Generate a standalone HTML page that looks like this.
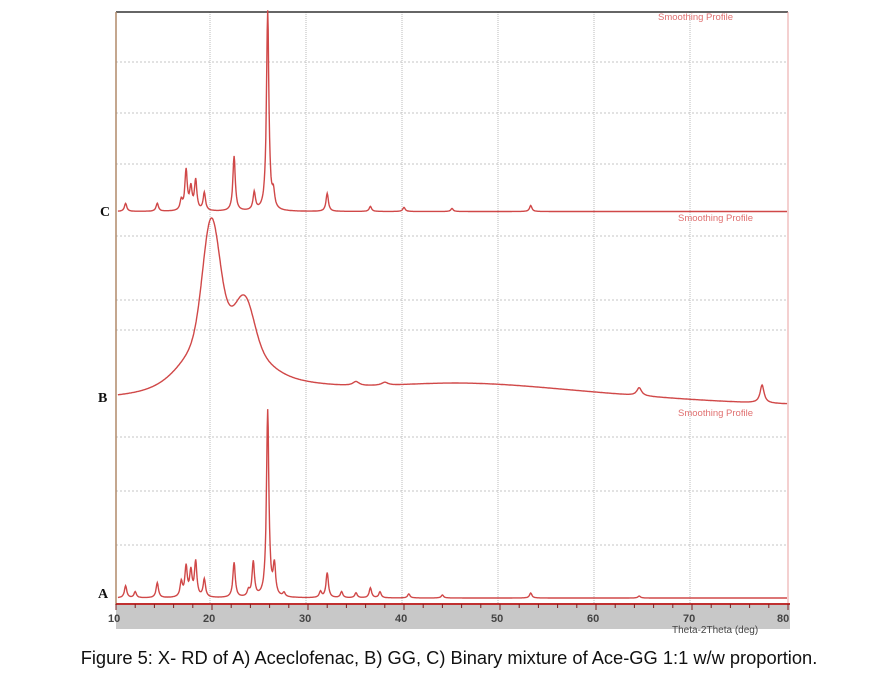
<!DOCTYPE html>
<html><head><meta charset="utf-8"><style>
body{margin:0;background:#fff;width:895px;height:675px;overflow:hidden;font-family:"Liberation Sans",sans-serif}
</style></head><body>
<svg id="s" width="895" height="675" xmlns="http://www.w3.org/2000/svg">
<rect x="116" y="605" width="674" height="24" fill="#c8c8c8"/>
<g stroke="#c4c4c4" stroke-dasharray="2,2" stroke-width="1">
<line x1="116" y1="62" x2="788" y2="62"/><line x1="116" y1="113" x2="788" y2="113"/><line x1="116" y1="164" x2="788" y2="164"/>
<line x1="116" y1="236" x2="788" y2="236"/><line x1="116" y1="300" x2="788" y2="300"/><line x1="116" y1="330" x2="788" y2="330"/>
<line x1="116" y1="437" x2="788" y2="437"/><line x1="116" y1="491" x2="788" y2="491"/><line x1="116" y1="545" x2="788" y2="545"/>
</g>
<g stroke="#bbb" stroke-width="1" stroke-dasharray="1,1">
<line x1="210" y1="12" x2="210" y2="603"/><line x1="306" y1="12" x2="306" y2="603"/><line x1="402" y1="12" x2="402" y2="603"/><line x1="498" y1="12" x2="498" y2="603"/><line x1="594" y1="12" x2="594" y2="603"/><line x1="690" y1="12" x2="690" y2="603"/>
</g>
<line x1="116" y1="12" x2="788" y2="12" stroke="#333" stroke-width="1.5"/>
<line x1="116" y1="12" x2="116" y2="605" stroke="#b08a6a" stroke-width="1.5"/>
<line x1="788" y1="12" x2="788" y2="605" stroke="#e8a0a0" stroke-width="1"/>
<line x1="116" y1="604" x2="790" y2="604" stroke="#c03030" stroke-width="2"/>
<g id="ticks" stroke="#7a2020" stroke-width="1"></g>
<g id="curves" fill="none" stroke="#d04848" stroke-width="1.4"></g>
<g font-size="11" fill="#444" font-weight="bold">
<text x="108" y="622">10</text><text x="203" y="622">20</text><text x="299" y="622">30</text><text x="395" y="622">40</text><text x="491" y="622">50</text><text x="587" y="622">60</text><text x="683" y="622">70</text><text x="777" y="622">80</text>
<text x="672" y="633" font-size="10" font-weight="normal">Theta-2Theta (deg)</text>
</g>
<g font-size="9.5" fill="#e07070">
<text x="658" y="20">Smoothing Profile</text>
<text x="678" y="221">Smoothing Profile</text>
<text x="678" y="416">Smoothing Profile</text>
</g>
<g font-family="Liberation Serif,serif" font-weight="bold" font-size="14" fill="#111">
<text x="100" y="216">C</text><text x="98" y="402">B</text><text x="98" y="598">A</text>
</g>
<text x="449" y="664" text-anchor="middle" font-size="18.3" fill="#111">Figure 5: X- RD of A) Aceclofenac, B) GG, C) Binary mixture of Ace-GG 1:1 w/w proportion.</text>
</svg>
<script>
var X=d=>116+(d-10)*9.6;
var t=document.getElementById('ticks'),h='';
for(var d=10;d<=80;d+=2){h+='<line x1="'+X(d)+'" y1="604" x2="'+X(d)+'" y2="'+(d%10?608:610)+'"/>';}
t.innerHTML=h;
function L(x,c,w){return 1/(1+((x-c)/w)*((x-c)/w));}
function G(x,c,w){return Math.exp(-((x-c)*(x-c))/(2*w*w));}
function path(base,f){var p='';for(var d=10.2;d<=79.9;d+=0.05){p+=(p?'L':'M')+X(d).toFixed(1)+','+(base(d)-f(d)).toFixed(1);}return p;}
var A=[[11,12],[12,6],[14.3,15],[16.8,15],[17.3,30],[17.8,25],[18.3,35],[19.2,18],[22.3,35],[23.8,6],[24.3,35],[25.8,187],[26.5,30],[27.5,4],[31.3,6],[32,25],[33.5,6],[35,5],[36.5,10],[37.5,6],[40.5,4],[44,3],[53.2,5],[64.5,2]];
var C=[[11,8],[14.3,8],[16.8,10],[17.3,40],[17.8,22],[18.3,30],[19.2,18],[22.3,55],[24.4,18],[25.8,200],[26.4,15],[32,18],[36.5,5],[40,4],[45,3],[53.2,6]];
function sum(pk,w){return d=>{var s=0;pk.forEach(p=>s+=p[1]*L(d,p[0],w));return s;};}
var cv=document.getElementById('curves');
var pA=path(d=>598,sum(A,0.15));
var pC=path(d=>211.5,sum(C,0.15));
var pB=path(d=>399+6*(d-10)/70,d=>{return 60*G(d,21,3.0)+105*G(d,19.9,0.85)+38*G(d,23.5,0.9)+22*G(d,23,7)+12*G(d,43,9)+10*G(d,55,12)+8*L(d,64.5,0.3)+18*L(d,77.3,0.25)+4*L(d,35,0.4)+3*L(d,38,0.4);});
cv.innerHTML='<path d="'+pA+'"/><path d="'+pB+'"/><path d="'+pC+'"/>';
</script>
</body></html>
